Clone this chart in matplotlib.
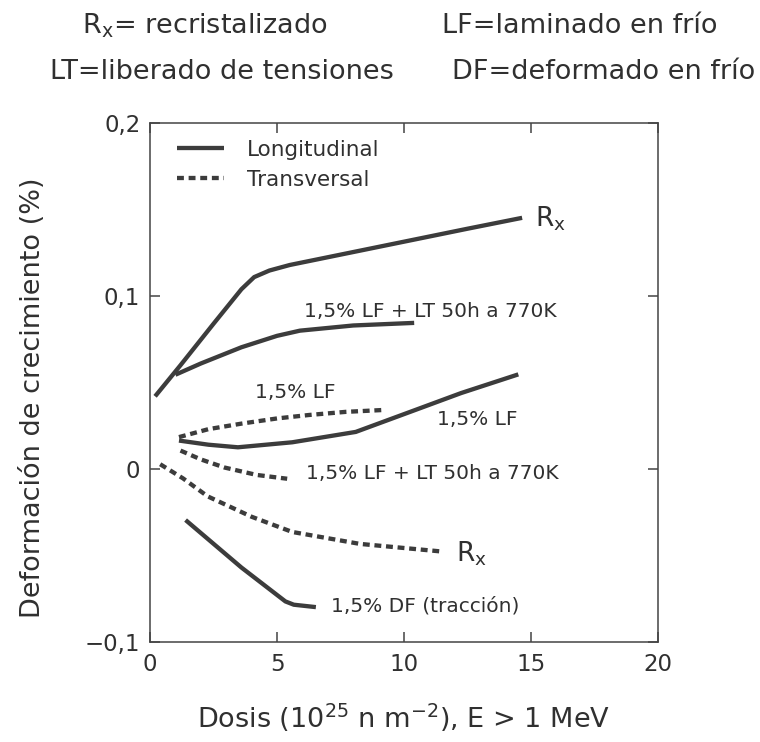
import matplotlib
matplotlib.use('Agg')
import matplotlib.pyplot as plt

#----------------------------------------------------
# Data (dose in 1e25 n/m2, growth in %)
#----------------------------------------------------
# Longitudinal, recristalizado (Rx)
rx_long_x = [0.2, 1.2, 2.5, 3.6, 4.1, 4.7, 5.5, 7.5, 10.0, 12.5, 14.65]
rx_long_y = [0.042, 0.060, 0.084, 0.104, 0.111, 0.1148, 0.118, 0.124, 0.1315, 0.139, 0.1453]

# Longitudinal, 1,5% LF + LT 50h a 770K
lflt_long_x = [1.0, 2.0, 3.6, 5.0, 5.9, 8.0, 10.4]
lflt_long_y = [0.0545, 0.061, 0.0704, 0.077, 0.080, 0.083, 0.0845]

# Transversal, 1,5% LF
lf_trans_x = [1.14, 2.3, 3.6, 5.0, 6.26, 7.7, 9.19]
lf_trans_y = [0.0184, 0.023, 0.0262, 0.0292, 0.0312, 0.033, 0.0341]

# Longitudinal, 1,5% LF
lf_long_x = [1.14, 2.3, 3.46, 5.6, 8.1, 10.26, 12.25, 14.5]
lf_long_y = [0.0164, 0.0140, 0.0125, 0.0154, 0.0214, 0.0331, 0.0439, 0.0547]

# Transversal, 1,5% LF + LT 50h a 770K
lflt_trans_x = [1.2, 2.0, 2.93, 4.2, 5.4]
lflt_trans_y = [0.0106, 0.0055, 0.0008, -0.0035, -0.0057]

# Transversal, recristalizado (Rx)
rx_trans_x = [0.4, 1.3, 2.27, 4.0, 5.6, 8.26, 11.4]
rx_trans_y = [0.0027, -0.0055, -0.0159, -0.0277, -0.0365, -0.0434, -0.0477]

# Longitudinal, 1,5% DF (traccion)
df_long_x = [1.4, 3.6, 5.33, 5.66, 6.53]
df_long_y = [-0.0296, -0.0571, -0.0767, -0.0786, -0.080]

xticks = [0, 5, 10, 15, 20]
xtick_labels = ['0', '5', '10', '15', '20']
yticks = [-0.1, 0, 0.1, 0.2]
ytick_labels = ['\u22120,1', '0', '0,1', '0,2']

#----------------------------------------------------
# Style
#----------------------------------------------------
plt.rcParams['font.family'] = ['DejaVu Sans']
plt.rcParams['mathtext.fontset'] = 'dejavusans'
text_col = '#303030'
line_col = '#3c3c3c'
lw = 3.1
dots = (1.6, 1.1)

fig = plt.figure(figsize=(7.6, 7.42), dpi=100)
ax = fig.add_axes([0.1974, 0.1352, 0.6684, 0.6986])

#----------------------------------------------------
# Curves
#----------------------------------------------------
ax.plot(rx_long_x, rx_long_y, '-', color=line_col, lw=lw,
        solid_capstyle='butt', label='Longitudinal')
ax.plot(lflt_long_x, lflt_long_y, '-', color=line_col, lw=lw, solid_capstyle='butt')
ax.plot(lf_long_x, lf_long_y, '-', color=line_col, lw=lw, solid_capstyle='butt')
ax.plot(df_long_x, df_long_y, '-', color=line_col, lw=lw, solid_capstyle='butt')

ax.plot(lf_trans_x, lf_trans_y, '--', dashes=dots, color=line_col, lw=lw,
        label='Transversal')
ax.plot(lflt_trans_x, lflt_trans_y, '--', dashes=dots, color=line_col, lw=lw)
ax.plot(rx_trans_x, rx_trans_y, '--', dashes=dots, color=line_col, lw=lw)

#----------------------------------------------------
# Curve labels
#----------------------------------------------------
lab = dict(fontsize=14.5, color=text_col, ha='left', va='center')
ax.text(15.17, 0.145, r'$\mathregular{R_x}$', fontsize=19, color=text_col,
        ha='left', va='center')
ax.text(6.06, 0.091, '1,5% LF + LT 50h a 770K', **lab)
ax.text(4.13, 0.0444, '1,5% LF', **lab)
ax.text(11.3, 0.0287, '1,5% LF', **lab)
ax.text(6.13, -0.0027, '1,5% LF + LT 50h a 770K', **lab)
ax.text(12.05, -0.0490, r'$\mathregular{R_x}$', fontsize=19, color=text_col,
        ha='left', va='center')
ax.text(7.13, -0.0792, '1,5% DF (tracción)', **lab)

#----------------------------------------------------
# Axes
#----------------------------------------------------
ax.set_xlim(0, 20)
ax.set_ylim(-0.1, 0.2)
ax.set_xticks(xticks)
ax.set_xticklabels(xtick_labels)
ax.set_yticks(yticks)
ax.set_yticklabels(ytick_labels)
ax.tick_params(direction='in', length=7, width=1.1, color='#444444',
               top=True, right=True, labelsize=16.5, labelcolor=text_col)
ax.tick_params(axis='x', pad=8)
ax.tick_params(axis='y', pad=7)
for sp in ax.spines.values():
    sp.set_linewidth(1.1)
    sp.set_color('#444444')

ax.set_xlabel(r'Dosis (10$^{25}$ n m$^{-2}$), E > 1 MeV', fontsize=19.5, color=text_col)
ax.xaxis.set_label_coords(0.5, -0.115)
ax.set_ylabel('Deformación de crecimiento (%)', fontsize=19.5, color=text_col)
ax.yaxis.set_label_coords(-0.205, 0.47)

leg = ax.legend(loc='upper left', bbox_to_anchor=(0.053, 0.968), frameon=False,
                fontsize=15.5, handlelength=2.2, handletextpad=1.05,
                labelspacing=0.45, borderpad=0, borderaxespad=0)
for t in leg.get_texts():
    t.set_color(text_col)

#----------------------------------------------------
# Header (abbreviations)
#----------------------------------------------------
hdr = dict(fontsize=19.5, color=text_col, ha='left', va='baseline')
fig.text(0.1075, 0.9555, r'$\mathregular{R_x}$= recristalizado', **hdr)
fig.text(0.5812, 0.9555, 'LF=laminado en frío', **hdr)
fig.text(0.0658, 0.893, 'LT=liberado de tensiones', **hdr)
fig.text(0.5943, 0.893, 'DF=deformado en frío', **hdr)

fig.savefig('out.png', dpi=100)
